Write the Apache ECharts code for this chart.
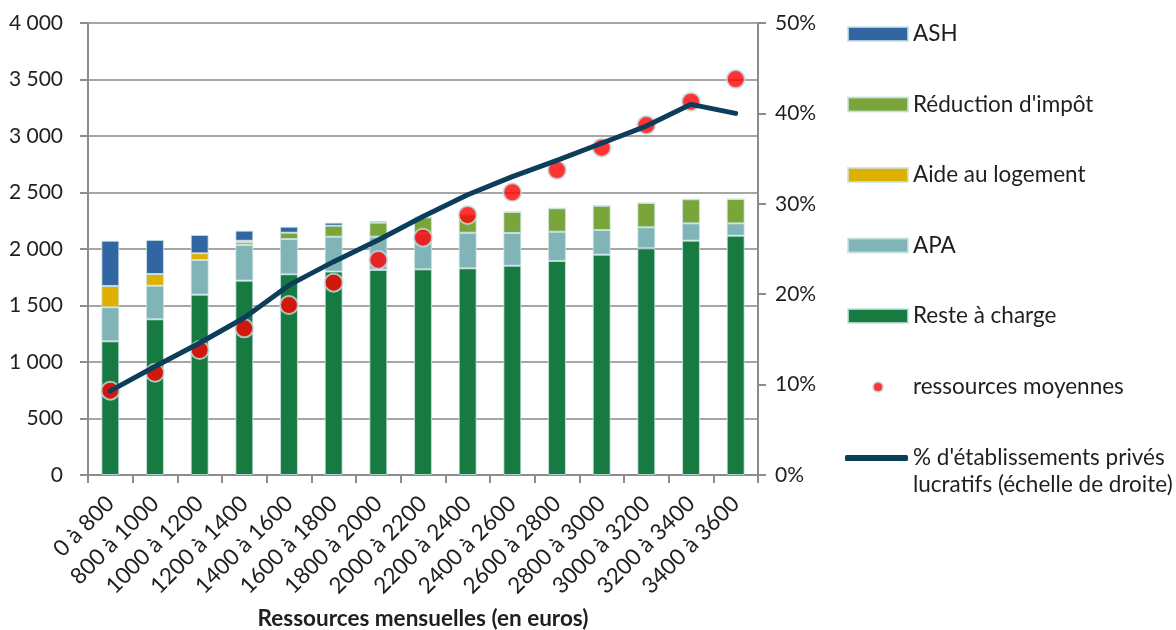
<!DOCTYPE html>
<html>
<head>
<meta charset="utf-8">
<script src="https://cdn.jsdelivr.net/npm/echarts@6/dist/echarts.min.js"></script>
<style>
html,body{margin:0;padding:0;background:#fff;}
#main{width:1176px;height:630px;}
</style>
</head>
<body>
<div id="main"></div>
<script>
const categories = ['0 à 800','800 à 1000','1000 à 1200','1200 à 1400','1400 à 1600','1600 à 1800','1800 à 2000','2000 à 2200','2200 à 2400','2400 à 2600','2600 à 2800','2800 à 3000','3000 à 3200','3200 à 3400','3400 à 3600'];
const resteACharge = [1183,1378,1596,1720,1776,1800,1815,1820,1829,1852,1894,1950,2006,2074,2118];
const apa = [301,297,307,315,312,309,294,320,315,290,259,218,186,153,109];
const aideLogement = [189,104,59,27,0,0,0,0,0,0,0,0,0,0,0];
const reductionImpot = [0,0,0,11,56,97,124,140,161,186,207,215,215,213,215];
const ash = [400,301,162,89,53,27,15,0,0,0,0,0,0,0,0];
const ressourcesMoyennes = [746,905,1106,1298,1504,1702,1903,2100,2301,2502,2699,2897,3097,3304,3504];
const pctPrivesLucratifs = [9.3,12.0,14.6,17.4,21.0,23.6,26.0,28.6,31.0,33.0,34.8,36.7,38.6,41.0,40.0];
const lineName = "% d'établissements privés lucratifs (échelle de droite)";

const FONT = 'Lato';
const TXT = '#1f1f1f';
const LFS = 22.5;
const chart = echarts.init(document.getElementById('main'));
const barBorder = {borderColor:'rgba(200,228,228,0.8)', borderWidth:1};
function barSeries(name, data, color){
  return {name, type:'bar', stack:'total', data, barWidth:'40%',
    itemStyle:Object.assign({color}, barBorder), emphasis:{disabled:true}};
}
chart.setOption({
  animation:false,
  textStyle:{fontFamily:FONT},
  grid:{left:88, right:418, top:23, bottom:155, containLabel:false, outerBoundsMode:'none'},
  legend:[
    {data:['ASH',"Réduction d'impôt",'Aide au logement','APA','Reste à charge'],
     orient:'vertical', left:842, top:17, itemWidth:60, itemHeight:14, itemGap:46.5,
     icon:'rect', selectedMode:false,
     textStyle:{fontFamily:FONT, fontSize:LFS, lineHeight:24, color:TXT}},
    {data:['ressources moyennes'], orient:'vertical', left:867, top:370, itemWidth:60, itemHeight:10,
     selectedMode:false, textStyle:{fontFamily:FONT, fontSize:LFS, lineHeight:24, color:TXT}},
    {data:[lineName], orient:'vertical', left:840, top:412.5, itemWidth:63, itemHeight:6,
     icon:'roundRect', selectedMode:false,
     formatter: () => "\n% d'établissements privés\nlucratifs (échelle de droite)",
     textStyle:{fontFamily:FONT, fontSize:LFS, lineHeight:27, color:TXT}}
  ],
  xAxis:{type:'category', data:categories,
    name:'Ressources mensuelles (en euros)', nameLocation:'middle', nameGap:132,
    nameTextStyle:{fontFamily:FONT, fontSize:22.5, fontWeight:'bold', color:TXT},
    axisLine:{lineStyle:{color:'#8c8c8c', width:2}},
    axisTick:{show:true, length:8, alignWithLabel:false, lineStyle:{color:'#8c8c8c', width:2}},
    axisLabel:{interval:0, rotate:45, margin:25, fontFamily:FONT, fontSize:22.5, color:TXT}},
  yAxis:[
    {type:'value', min:0, max:4000, interval:500,
     axisLine:{show:true, lineStyle:{color:'#8c8c8c', width:2}},
     axisTick:{show:true, length:8, lineStyle:{color:'#8c8c8c', width:2}},
     splitLine:{show:true, lineStyle:{color:'#a6a6a6', width:2}},
     axisLabel:{margin:25, fontFamily:FONT, fontSize:21, color:TXT,
       formatter: v => String(v).replace(/\B(?=(\d{3})+(?!\d))/g,' ')}},
    {type:'value', min:0, max:50, interval:10, position:'right',
     axisLine:{show:true, lineStyle:{color:'#8c8c8c', width:2}},
     axisTick:{show:true, length:8, lineStyle:{color:'#8c8c8c', width:2}},
     splitLine:{show:false},
     axisLabel:{margin:17, fontFamily:FONT, fontSize:21, color:TXT, formatter:'{value}%'}}
  ],
  series:[
    barSeries('Reste à charge', resteACharge, '#177a41'),
    barSeries('APA', apa, '#80b4b7'),
    barSeries('Aide au logement', aideLogement, '#e0b000'),
    barSeries("Réduction d'impôt", reductionImpot, '#79a53a'),
    barSeries('ASH', ash, '#3266a2'),
    {name:'ressources moyennes', type:'scatter', data:ressourcesMoyennes, symbol:'circle', symbolSize:18,
     itemStyle:{color:'#ff0000', borderColor:'#bfe1e1', borderWidth:2}, z:5},
    {name:lineName, type:'line', yAxisIndex:1, data:pctPrivesLucratifs, symbol:'none',
     itemStyle:{color:'#0c3e5c'}, lineStyle:{color:'#0c3e5c', width:5, cap:'round', join:'round'}, z:6}
  ]
});
</script>
</body>
</html>
